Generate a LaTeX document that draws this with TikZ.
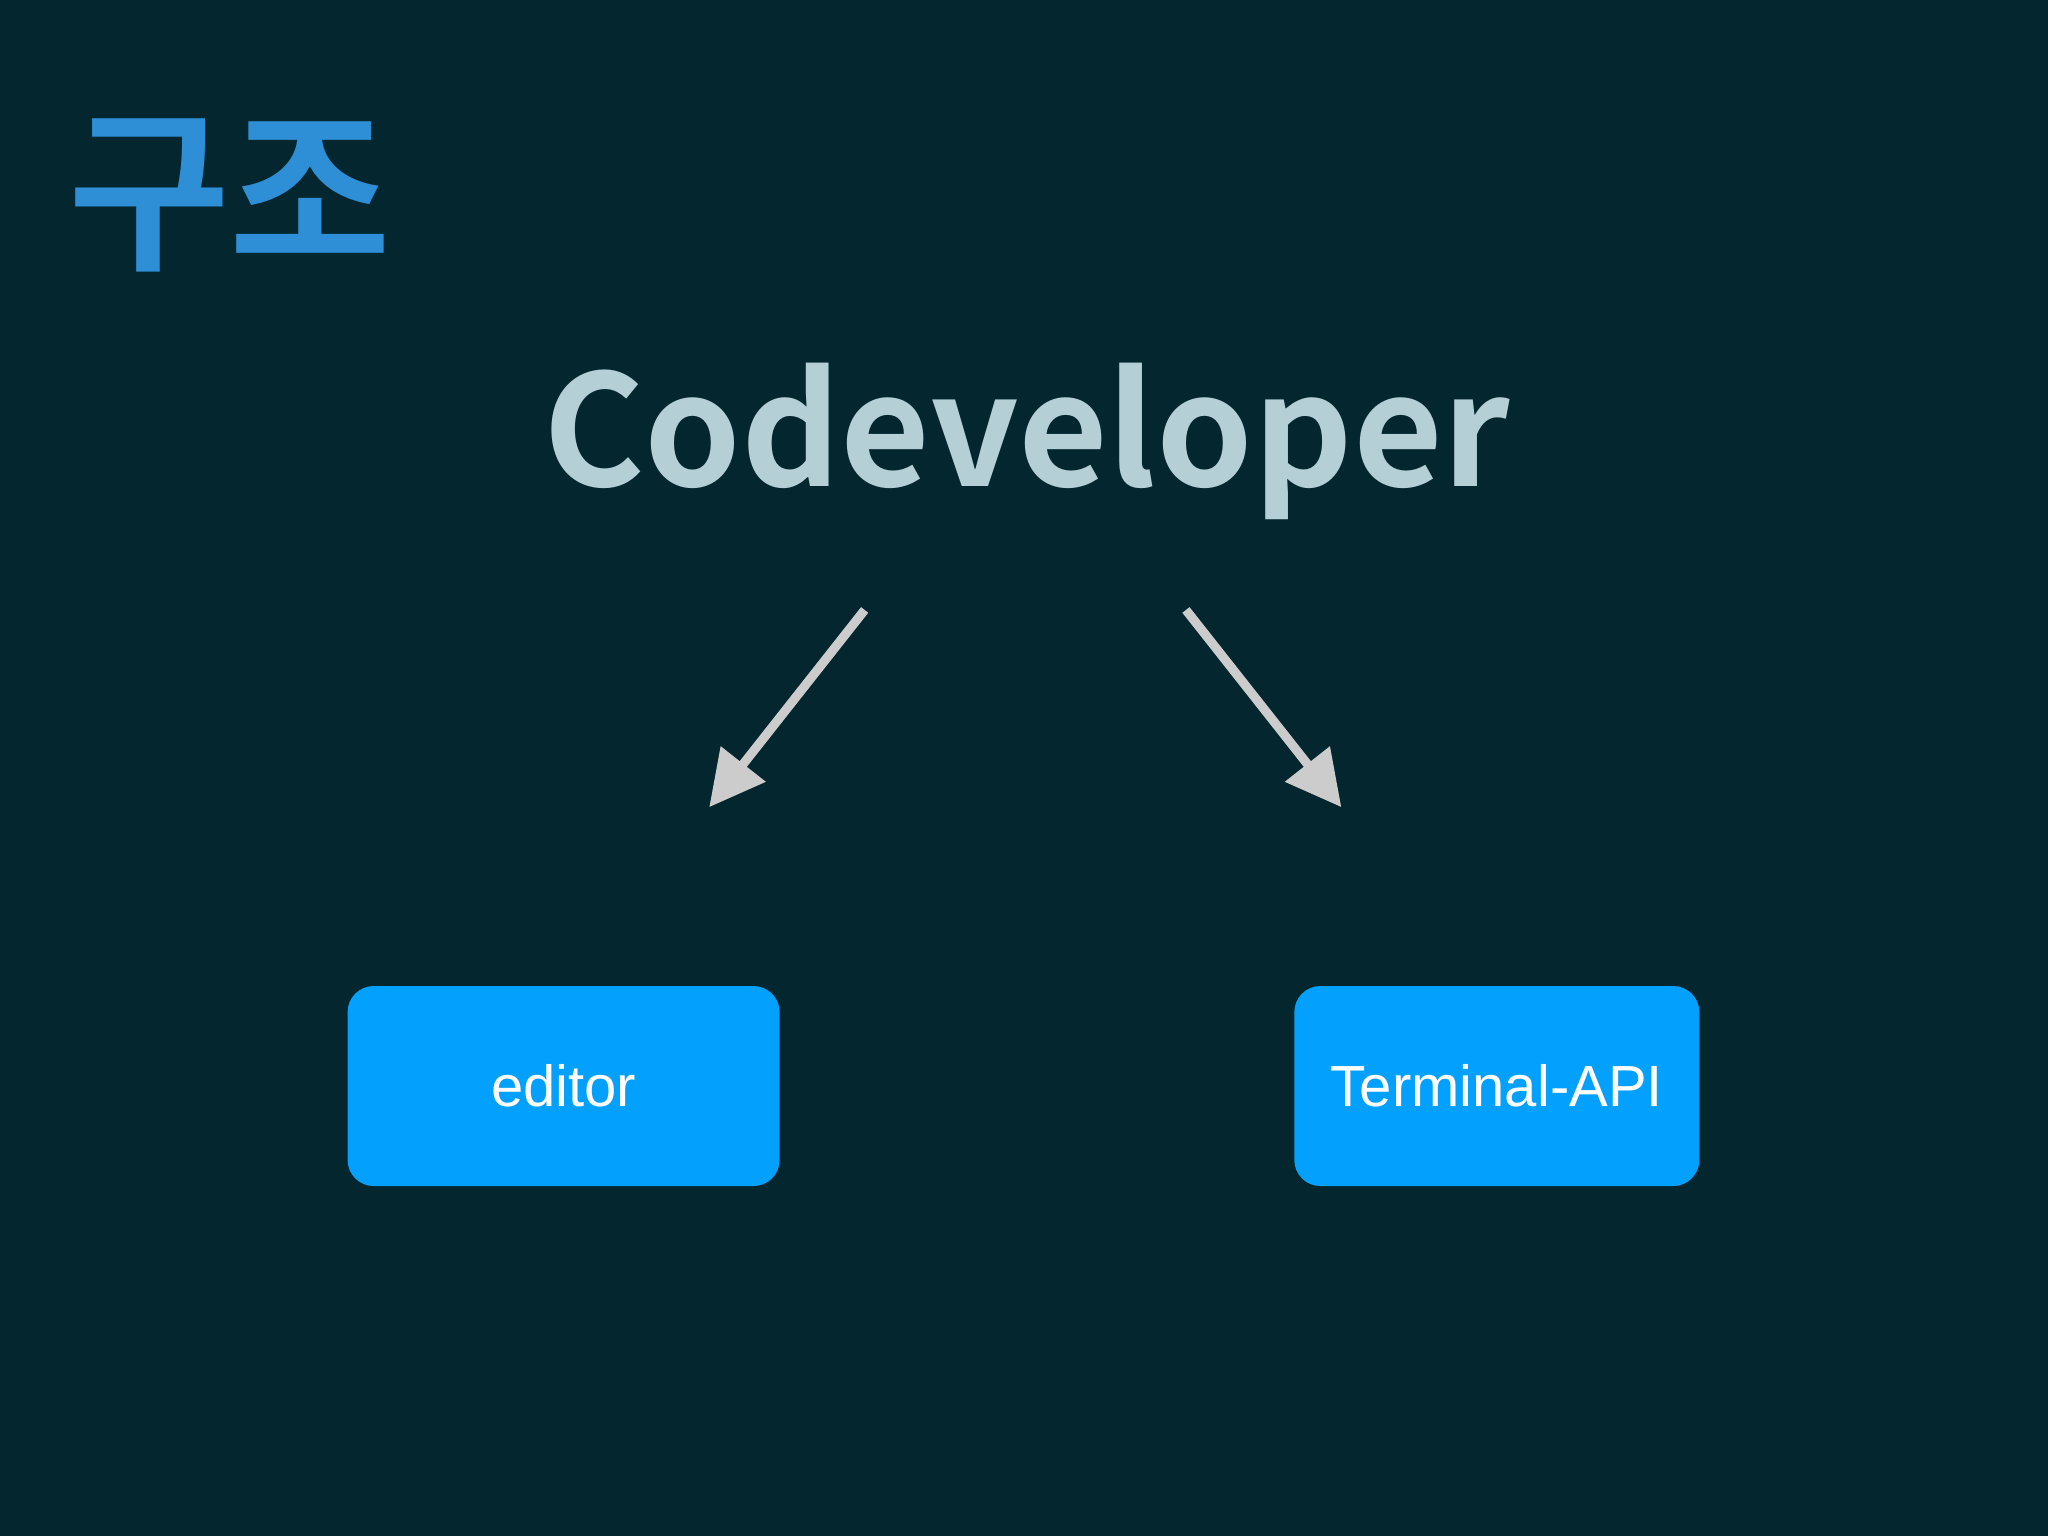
\documentclass[tikz,border=0pt]{standalone}
\usepackage{fontspec}
\setmainfont{Liberation Sans}
\newfontfamily\krfont{Noto Sans CJK KR Bold}
\usetikzlibrary{arrows.meta}
\definecolor{bgc}{HTML}{03262F}
\definecolor{titlec}{HTML}{2E8FD6}
\definecolor{headc}{HTML}{B5CFD6}
\definecolor{boxc}{HTML}{03A1FD}
\definecolor{arrc}{HTML}{CCCCCC}
\tikzset{
  box/.style={fill=boxc, rounded corners=0.26cm, minimum width=4.32cm, minimum height=2.0cm, text=white, font=\fontsize{16.5}{18}\selectfont},
  arr/.style={draw=arrc, line width=2.6pt, -{Triangle[length=0.55cm,width=0.55cm]}}
}
\begin{document}
\begin{tikzpicture}[x=0.013061cm,y=-0.013061cm]
\fill[bgc] (0,0) rectangle (1568,1176);
\useasboundingbox (0,0) rectangle (1568,1176);
\node[text=titlec, font=\krfont\fontsize{50}{55}\selectfont, anchor=center] (title) at (176,150) {구조};
\node[text=headc, font=\krfont\fontsize{44}{48}\selectfont] (head) at (786,338) {Codeveloper};
\coordinate (a1) at (662,467);
\coordinate (a2) at (543,618);
\coordinate (b1) at (908,467);
\coordinate (b2) at (1027,618);
\draw[arr] (a1) -- (a2);
\draw[arr] (b1) -- (b2);
\node[box] (ed) at (431.5,831.5) {editor};
\node[box, minimum width=4.05cm] (term) at (1146,831.5) {Terminal-API};
\end{tikzpicture}
\end{document}
